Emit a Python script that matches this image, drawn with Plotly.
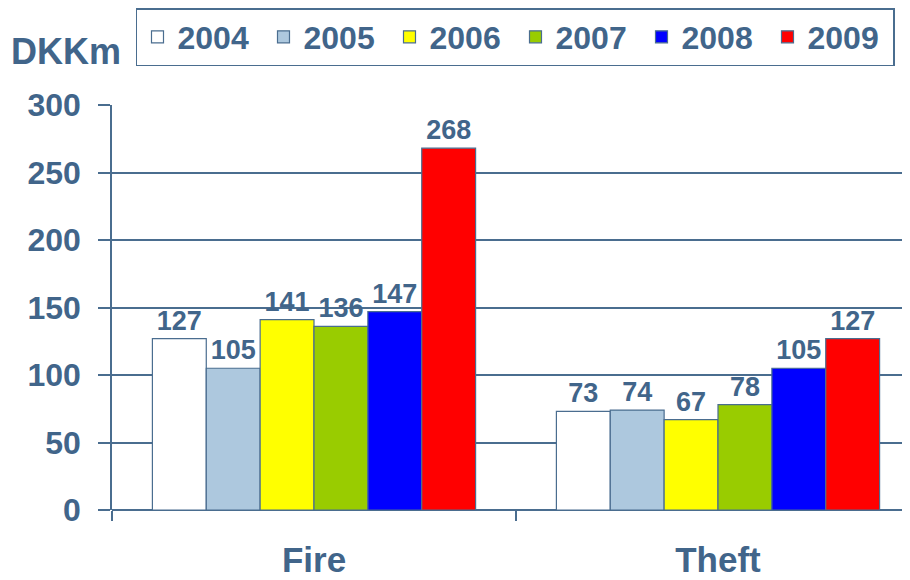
import plotly.graph_objects as go

categories = ["Fire", "Theft"]
years = ["2004", "2005", "2006", "2007", "2008", "2009"]
values_2004 = [127, 73]
values_2005 = [105, 74]
values_2006 = [141, 67]
values_2007 = [136, 78]
values_2008 = [147, 105]
values_2009 = [268, 127]
series = [values_2004, values_2005, values_2006, values_2007, values_2008, values_2009]
colors = ["#ffffff", "#adc8de", "#ffff00", "#99cc00", "#0000ff", "#ff0000"]

TXT = "#41658a"
LINE = "#4a6d8f"
FONT = "Liberation Sans, Arial, sans-serif"

fig = go.Figure()
for yr, vals, col in zip(years, series, colors):
    fig.add_trace(go.Bar(
        name=yr, x=categories, y=vals,
        marker=dict(color=col, line=dict(color=LINE, width=1.2)),
        text=[str(v) for v in vals], textposition="outside",
        textfont=dict(family=FONT, size=27, color=TXT, weight="bold"),
        cliponaxis=False,
    ))

fig.update_layout(
    width=914, height=572,
    margin=dict(l=104, r=2, t=97, b=70, autoexpand=False),
    paper_bgcolor="white", plot_bgcolor="white",
    barmode="group", bargap=0.2, bargroupgap=0,
    font=dict(family=FONT, color=TXT),
    legend=dict(
        orientation="h", x=0.0297, y=1.2395, xanchor="left", yanchor="top",
        bordercolor=LINE, borderwidth=1.5, bgcolor="white",
        font=dict(family=FONT, size=32, color=TXT, weight="bold"),
        itemwidth=30, tracegroupgap=0,
        entrywidth=81, entrywidthmode="pixels",
    ),
    showlegend=True,
    annotations=[dict(
        text="DKKm", xref="paper", yref="paper", x=-0.127, y=1.131,
        xanchor="left", yanchor="middle", showarrow=False,
        font=dict(family=FONT, size=36, color=TXT, weight="bold"),
    )],
)

fig.update_yaxes(
    range=[0, 300], tickvals=[0, 50, 100, 150, 200, 250, 300],
    showgrid=True, gridcolor=LINE, gridwidth=1.5,
    showline=True, linecolor=LINE, linewidth=1.5,
    ticks="outside", ticklen=12, tickcolor=LINE, tickwidth=1.5,
    ticklabelstandoff=11,
    tickfont=dict(family=FONT, size=32, color=TXT, weight="bold"),
    zeroline=True, zerolinecolor=LINE, zerolinewidth=1.5,
)
fig.update_xaxes(
    showline=False, tickson="boundaries", ticks="outside", ticklen=10,
    tickcolor=LINE, tickwidth=1.5, ticklabelstandoff=26,
    tickfont=dict(family=FONT, size=35, color=TXT, weight="bold"),
)

fig.write_html("out.html")
